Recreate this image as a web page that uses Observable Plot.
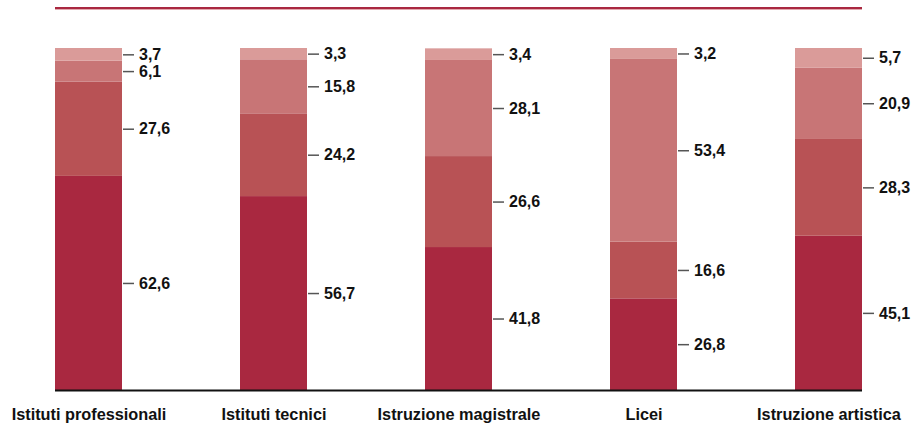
<!DOCTYPE html>
<html>
<head>
<meta charset="utf-8">
<script src="https://cdn.jsdelivr.net/npm/d3@7"></script>
<script src="https://cdn.jsdelivr.net/npm/@observablehq/plot@0.6"></script>
<style>
  html, body { margin: 0; padding: 0; background: #fff; }
  #chart { width: 916px; height: 425px; }
</style>
</head>
<body>
<div id="chart"></div>
<script>
const categories = ["Istituti professionali", "Istituti tecnici", "Istruzione magistrale", "Licei", "Istruzione artistica"];
const seriesNames = ["fascia1", "fascia2", "fascia3", "fascia4"]; // bottom to top
const values1 = [62.6, 56.7, 41.8, 26.8, 45.1];
const values2 = [27.6, 24.2, 26.6, 16.6, 28.3];
const values3 = [6.1, 15.8, 28.1, 53.4, 20.9];
const values4 = [3.7, 3.3, 3.4, 3.2, 5.7];
const seriesColors = ["#a92840", "#b85255", "#c87576", "#da9b99"];

const allValues = [values1, values2, values3, values4];
const data = [];
seriesNames.forEach((s, si) => {
  categories.forEach((c, ci) => {
    data.push({category: c, series: s, value: allValues[si][ci]});
  });
});

const fmt = v => v.toFixed(1).replace(".", ",");
const font = "'Liberation Sans', Arial, sans-serif";

const chart = Plot.plot({
  width: 916,
  height: 425,
  marginTop: 48,
  marginBottom: 35,
  marginLeft: 55,
  marginRight: 54,
  style: {fontFamily: font, background: "#fff"},
  x: {domain: categories, paddingInner: 0.638, paddingOuter: 0, label: null},
  y: {domain: [0, 100], axis: null},
  color: {domain: seriesNames, range: seriesColors},
  marks: [
    Plot.barY(data, {x: "category", y: "value", fill: "series"}),
    Plot.tickY(data, Plot.stackY({x: "category", y: "value", stroke: "#555", strokeWidth: 1.5, dx: 68, insetRight: 56})),
    Plot.text(data, Plot.stackY({x: "category", y: "value", text: d => fmt(d.value), textAnchor: "start", dx: 50, fontSize: 16, fontWeight: "bold", fill: "#111"})),
    Plot.ruleY([0], {stroke: "#111", strokeWidth: 2}),
    Plot.axisX({tickSize: 0, tickPadding: 18, fontSize: 16.3, fontWeight: "bold", fill: "#111", label: null})
  ]
});

// decorative red rule at the top
const svg = d3.select(chart);
svg.append("line")
  .attr("x1", 55).attr("x2", 862)
  .attr("y1", 8).attr("y2", 8)
  .attr("stroke", "#a92840").attr("stroke-width", 2);
svg.append("line")
  .attr("x1", 55).attr("x2", 862)
  .attr("y1", 9.5).attr("y2", 9.5)
  .attr("stroke", "#e2a8ae").attr("stroke-width", 1);

document.getElementById("chart").appendChild(chart);
</script>
</body>
</html>
